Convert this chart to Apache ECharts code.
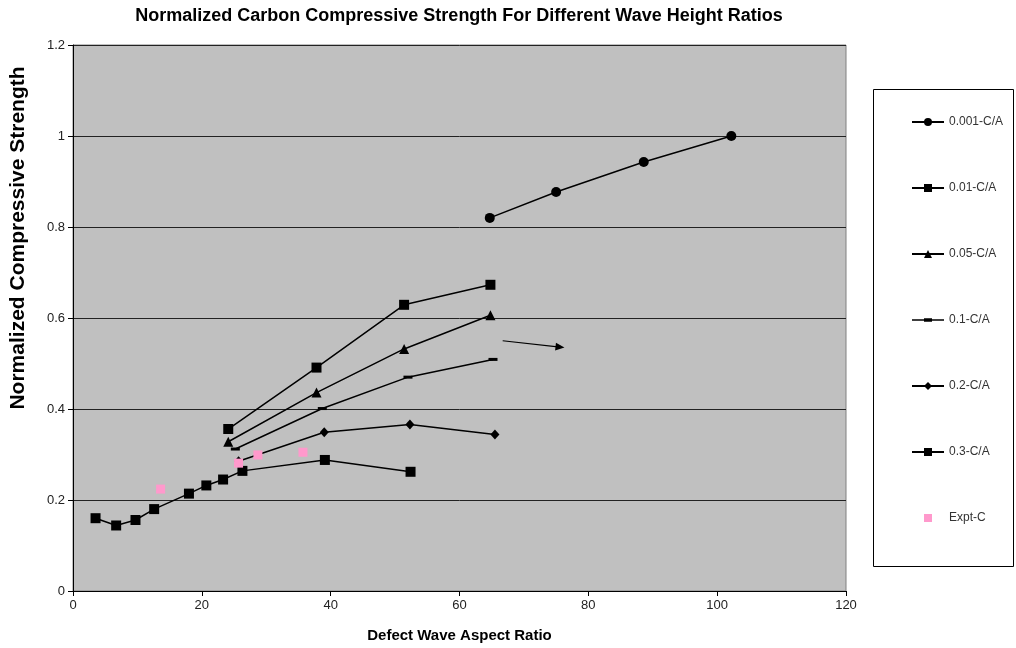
<!DOCTYPE html>
<html>
<head>
<meta charset="utf-8">
<title>Normalized Carbon Compressive Strength</title>
<script src="https://cdn.jsdelivr.net/npm/echarts@6/dist/echarts.min.js"></script>
<style>
  html, body { margin: 0; padding: 0; background: #ffffff; }
  #chart { width: 1016px; height: 648px; }
</style>
</head>
<body>
<div id="chart"></div>
<script>
// Series names as shown in the legend
const seriesNames = ['0.001-C/A', '0.01-C/A', '0.05-C/A', '0.1-C/A', '0.2-C/A', '0.3-C/A', 'Expt-C'];

// [aspect ratio, normalized strength] pairs for each wave height ratio
const ca0001 = [[64.7, 0.820], [75.0, 0.877], [88.6, 0.943], [102.2, 1.000]];
const ca001 = [[24.1, 0.356], [37.8, 0.491], [51.4, 0.629], [64.8, 0.673]];
const ca005 = [[24.1, 0.328], [37.8, 0.436], [51.4, 0.532], [64.8, 0.606]];
const ca01 = [[25.2, 0.312], [38.7, 0.401], [52.0, 0.470], [65.2, 0.509]];
const ca02 = [[25.7, 0.285], [39.0, 0.349], [52.3, 0.366], [65.5, 0.344]];
const ca03 = [[3.5, 0.160], [6.7, 0.144], [9.7, 0.156], [12.6, 0.180], [18.0, 0.214],
              [20.7, 0.232], [23.3, 0.245], [26.3, 0.264], [39.1, 0.288], [52.4, 0.262]];
const exptC = [[13.6, 0.224], [25.7, 0.281], [28.7, 0.299], [35.7, 0.305]];

// Annotation arrow, start and tip in data coordinates
const arrowFrom = [66.7, 0.550];
const arrowTo = [75.6, 0.536];

// Axis ranges and tick steps
const xRange = [0, 120, 20];
const yRange = [0, 1.2, 0.2];

const chart = echarts.init(document.getElementById('chart'), null, { renderer: 'canvas' });

function lineSeries(name, data, symbol, symbolSize, extra) {
  return Object.assign({
    name: name,
    type: 'line',
    data: data,
    symbol: symbol,
    symbolSize: symbolSize,
    showAllSymbol: true,
    color: '#000000',
    itemStyle: { color: '#000000' },
    lineStyle: { color: '#000000', width: 1.5 },
    emphasis: { disabled: true },
    animation: false
  }, extra || {});
}

const dashIcon = 'path://M0,1h32v1.5h-32zM12,0h8v3.5h-8z';
const fontFamily = 'Liberation Sans, Arial, sans-serif';

const option = {
  backgroundColor: '#ffffff',
  animation: false,
  title: {
    text: 'Normalized Carbon Compressive Strength For Different Wave Height Ratios',
    left: 454,
    textAlign: 'center',
    top: 2,
    textStyle: { fontFamily: fontFamily, fontSize: 18, fontWeight: 'bold', color: '#000000' }
  },
  grid: {
    left: 73, right: 170, top: 45, bottom: 56,
    show: true,
    backgroundColor: '#c0c0c0',
    borderColor: '#808080',
    borderWidth: 1
  },
  legend: {
    orient: 'vertical',
    left: 906,
    top: 111,
    itemWidth: 32,
    itemHeight: 10,
    itemGap: 54,
    selectedMode: false,
    textStyle: { fontFamily: fontFamily, fontSize: 12, color: '#333333', lineHeight: 10 },
    data: [
      { name: seriesNames[0] },
      { name: seriesNames[1] },
      { name: seriesNames[2] },
      { name: seriesNames[3], icon: dashIcon },
      { name: seriesNames[4] },
      { name: seriesNames[5] },
      { name: seriesNames[6] }
    ]
  },
  graphic: [{
    type: 'rect',
    shape: { x: 873.5, y: 89.5, width: 140, height: 477 },
    style: { fill: 'none', stroke: '#000000', lineWidth: 1 },
    silent: true,
    z: 0
  }],
  xAxis: {
    type: 'value',
    min: xRange[0], max: xRange[1], interval: xRange[2],
    name: 'Defect Wave Aspect Ratio',
    nameLocation: 'middle',
    nameGap: 37,
    nameTextStyle: { fontFamily: fontFamily, fontSize: 15, fontWeight: 'bold', color: '#000000' },
    axisLine: { show: true, onZero: false, lineStyle: { color: '#000000', width: 1 } },
    axisTick: { show: true, length: 5, inside: false, lineStyle: { color: '#000000' } },
    axisLabel: { margin: 8, fontFamily: fontFamily, fontSize: 13, color: '#222222' },
    splitLine: { show: false }
  },
  yAxis: {
    type: 'value',
    min: yRange[0], max: yRange[1], interval: yRange[2],
    name: 'Normalized Compressive Strength',
    nameLocation: 'middle',
    nameGap: 44,
    nameTextStyle: { fontFamily: fontFamily, fontSize: 21, fontWeight: 'bold', color: '#000000', padding: [0, 0, 0, 160] },
    axisLine: { show: true, onZero: false, lineStyle: { color: '#000000', width: 1 } },
    axisTick: { show: true, length: 5, inside: false, lineStyle: { color: '#000000' } },
    axisLabel: { margin: 8, fontFamily: fontFamily, fontSize: 13, color: '#222222' },
    splitLine: { show: true, lineStyle: { color: '#222222', width: 1 } }
  },
  series: [
    lineSeries(seriesNames[0], ca0001, 'circle', 10),
    lineSeries(seriesNames[1], ca001, 'rect', 10),
    lineSeries(seriesNames[2], ca005, 'triangle', 10),
    lineSeries(seriesNames[3], ca01, 'rect', [9, 3], {
      markLine: {
        silent: true,
        animation: false,
        symbol: ['none', 'triangle'],
        symbolSize: [8, 9],
        label: { show: false },
        lineStyle: { color: '#000000', width: 1.2, type: 'solid' },
        emphasis: { disabled: true },
        data: [[{ coord: arrowFrom }, { coord: arrowTo }]]
      }
    }),
    lineSeries(seriesNames[4], ca02, 'diamond', [9, 10]),
    lineSeries(seriesNames[5], ca03, 'rect', 10),
    lineSeries(seriesNames[6], exptC, 'rect', 9, {
      color: '#ff99cc',
      itemStyle: { color: '#ff99cc' },
      lineStyle: { width: 0, color: '#ff99cc' }
    })
  ]
};

chart.setOption(option);
</script>
</body>
</html>
